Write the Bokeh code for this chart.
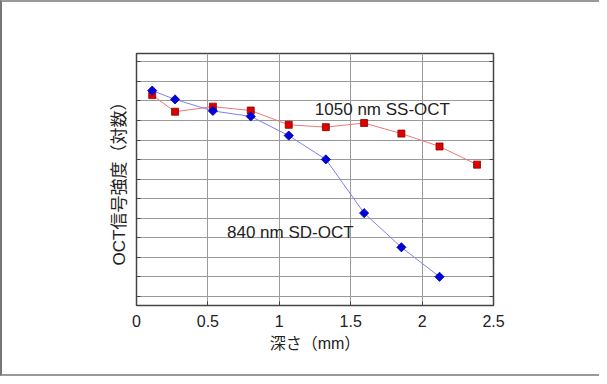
import math
from bokeh.plotting import figure
from bokeh.models import Range1d, FixedTicker, Label, LinearAxis, CustomJSTickFormatter
from bokeh.embed import file_html
from bokeh.resources import INLINE

# depth (mm)
depth_ss = [0.11, 0.27, 0.535, 0.80, 1.066, 1.326, 1.594, 1.855, 2.122, 2.385]
depth_sd = [0.11, 0.27, 0.535, 0.80, 1.066, 1.326, 1.594, 1.855, 2.122]
# OCT signal intensity (log, arbitrary grid units)
ss_oct = [10.30, 9.45, 9.71, 9.51, 8.78, 8.66, 8.87, 8.33, 7.67, 6.74]
sd_oct = [10.53, 10.08, 9.49, 9.21, 8.23, 7.01, 4.26, 2.51, 1.00]

x_ticks = [0, 0.5, 1, 1.5, 2, 2.5]
y_ticks = list(range(13))
ss_label = "1050 nm SS-OCT"
sd_label = "840 nm SD-OCT"
x_title = "深さ（mm）"
y_title = "OCT信号強度（対数）"

FONT = "Liberation Sans, Noto Sans CJK JP"
blank = CustomJSTickFormatter(code="return '';")

p = figure(width=599, height=376, output_backend="svg", toolbar_location=None,
           x_range=Range1d(0, 2.5), y_range=Range1d(-0.47, 12.43),
           min_border_left=134, min_border_right=108, min_border_top=51, min_border_bottom=73)
p.styles = {"border-left": "2px solid #777777", "border-top": "2px solid #999999",
            "border-bottom": "2px solid #999999", "box-sizing": "border-box"}

p.background_fill_color = "white"
p.border_fill_color = "white"
p.outline_line_color = "#444444"
p.outline_line_width = 1.5

# x axis
p.xaxis.ticker = FixedTicker(ticks=x_ticks)
p.xaxis.formatter = CustomJSTickFormatter(code="return tick.toString();")
p.xaxis.major_tick_in = 4
p.xaxis.major_tick_out = 0
p.xaxis.minor_tick_line_color = None
p.xaxis.axis_line_color = "#444444"
p.xaxis.major_tick_line_color = "#444444"
p.xaxis.major_label_standoff = 9
p.xaxis.major_label_text_font = FONT
p.xaxis.major_label_text_font_size = "16px"
p.xaxis.major_label_text_color = "#222222"
p.xaxis.axis_label = x_title
p.xaxis.axis_label_text_font = FONT
p.xaxis.axis_label_text_font_size = "16px"
p.xaxis.axis_label_text_font_style = "normal"
p.xaxis.axis_label_text_color = "#222222"
p.xaxis.axis_label_standoff = 5

# y axis (no tick labels)
p.yaxis.ticker = FixedTicker(ticks=y_ticks)
p.yaxis.formatter = blank
p.yaxis.major_tick_in = 4
p.yaxis.major_tick_out = 0
p.yaxis.minor_tick_line_color = None
p.yaxis.axis_line_color = "#444444"
p.yaxis.major_tick_line_color = "#444444"
p.yaxis.major_label_standoff = 0
p.yaxis.axis_label = y_title
p.yaxis.axis_label_text_font = FONT
p.yaxis.axis_label_text_font_size = "17px"
p.yaxis.axis_label_text_font_style = "normal"
p.yaxis.axis_label_text_color = "#222222"
p.yaxis.axis_label_standoff = 8

right = LinearAxis(ticker=FixedTicker(ticks=y_ticks), formatter=CustomJSTickFormatter(code="return '';"),
                   major_tick_in=4, major_tick_out=0, minor_tick_line_color=None,
                   axis_line_color="#444444", major_tick_line_color="#444444")
p.add_layout(right, "right")

p.xgrid.ticker = FixedTicker(ticks=[0.5, 1, 1.5, 2])
p.ygrid.ticker = FixedTicker(ticks=y_ticks)
p.grid.grid_line_color = "#9a9a9a"
p.grid.grid_line_width = 1

# series
p.line(depth_ss, ss_oct, line_color="#ee7777", line_width=1)
p.scatter(depth_ss, ss_oct, marker="square", size=7, fill_color="#dd0000",
          line_color="#880000", line_width=0.8)
p.line(depth_sd, sd_oct, line_color="#8080ee", line_width=1)
p.scatter(depth_sd, sd_oct, marker="square", size=6.5, angle=math.pi / 4, fill_color="#0000dd",
          line_color="#0000aa", line_width=0.8)

p.add_layout(Label(x=1.249, y=9.58, text=ss_label, text_baseline="middle", text_align="left",
                   text_font=FONT, text_font_size="17px", text_color="#222222"))
p.add_layout(Label(x=0.634, y=3.26, text=sd_label, text_baseline="middle", text_align="left",
                   text_font=FONT, text_font_size="17px", text_color="#222222"))

open("out.html", "w").write(file_html(p, INLINE))
